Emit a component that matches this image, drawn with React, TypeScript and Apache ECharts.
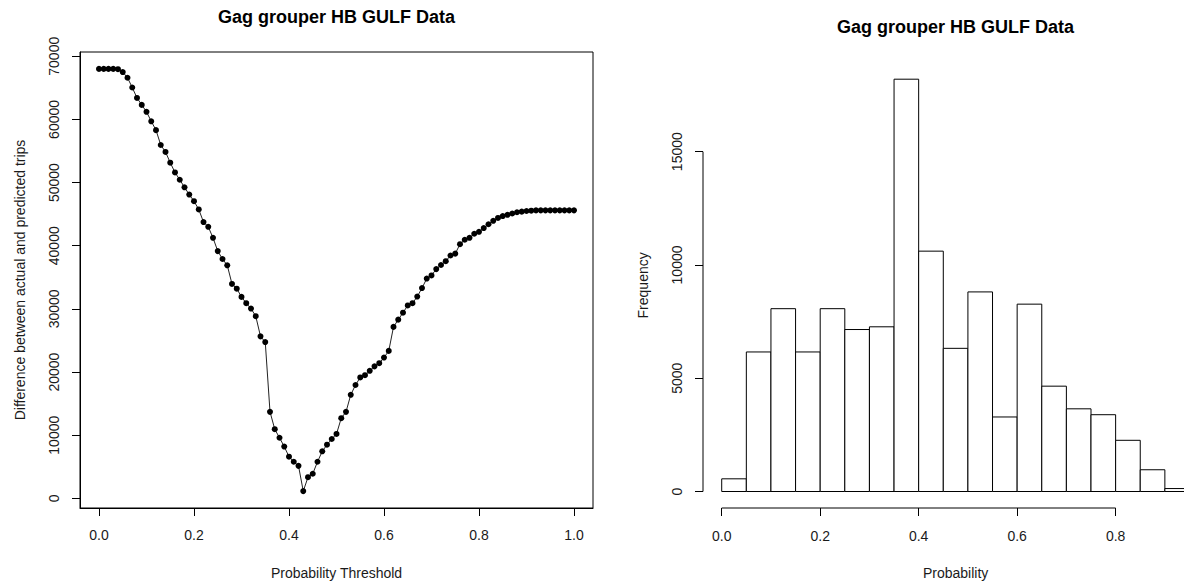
import React, { useEffect, useRef } from "react";
import * as echarts from "echarts";

// ---------- Data ----------
const chartTitle = "Gag grouper HB GULF Data";

// Left panel: difference between actual and predicted trips by probability threshold
const thresholds = [
  0.0, 0.01, 0.02, 0.03, 0.04, 0.05, 0.06, 0.07, 0.08, 0.09,
  0.1, 0.11, 0.12, 0.13, 0.14, 0.15, 0.16, 0.17, 0.18, 0.19,
  0.2, 0.21, 0.22, 0.23, 0.24, 0.25, 0.26, 0.27, 0.28, 0.29,
  0.3, 0.31, 0.32, 0.33, 0.34, 0.35, 0.36, 0.37, 0.38, 0.39,
  0.4, 0.41, 0.42, 0.43, 0.44, 0.45, 0.46, 0.47, 0.48, 0.49,
  0.5, 0.51, 0.52, 0.53, 0.54, 0.55, 0.56, 0.57, 0.58, 0.59,
  0.6, 0.61, 0.62, 0.63, 0.64, 0.65, 0.66, 0.67, 0.68, 0.69,
  0.7, 0.71, 0.72, 0.73, 0.74, 0.75, 0.76, 0.77, 0.78, 0.79,
  0.8, 0.81, 0.82, 0.83, 0.84, 0.85, 0.86, 0.87, 0.88, 0.89,
  0.9, 0.91, 0.92, 0.93, 0.94, 0.95, 0.96, 0.97, 0.98, 0.99,
  1.0,
];
const tripDifferences = [
  68000, 68000, 68000, 68000, 67950, 67500, 66600, 65050, 63400, 62300,
  61200, 59700, 58300, 55950, 54850, 53150, 51600, 50450, 49250, 48100,
  47050, 45750, 43750, 43000, 41250, 39150, 37900, 36900, 33950, 33200,
  31900, 30900, 30050, 28850, 25650, 24750, 13700, 10950, 9600, 8200,
  6600, 5800, 5150, 1150, 3350, 3900, 5800, 7450, 8500, 9400,
  10200, 12700, 13700, 16400, 17950, 19150, 19500, 20200, 20900, 21400,
  22300, 23350, 27150, 28300, 29400, 30550, 30900, 31950, 33300, 34800,
  35300, 36300, 36950, 37550, 38450, 38750, 40250, 40950, 41250, 41900,
  42200, 42800, 43400, 43950, 44400, 44700, 44900, 45100, 45300, 45400,
  45500, 45550, 45600, 45600, 45600, 45600, 45600, 45600, 45600, 45600,
  45600,
];
const leftXTicks = [0, 0.2, 0.4, 0.6, 0.8, 1.0];
const leftYTicks = [0, 10000, 20000, 30000, 40000, 50000, 60000, 70000];

// Right panel: histogram of probabilities
const binStarts = [0.0, 0.05, 0.1, 0.15, 0.2, 0.25, 0.3, 0.35, 0.4, 0.45, 0.5, 0.55, 0.6, 0.65, 0.7, 0.75, 0.8, 0.85, 0.9];
const binEnds = [0.05, 0.1, 0.15, 0.2, 0.25, 0.3, 0.35, 0.4, 0.45, 0.5, 0.55, 0.6, 0.65, 0.7, 0.75, 0.8, 0.85, 0.9, 0.95];
const binCounts = [560, 6160, 8070, 6160, 8070, 7150, 7270, 18200, 10610, 6320, 8810, 3290, 8270, 4650, 3650, 3390, 2260, 960, 130];
const rightXTicks = [0, 0.2, 0.4, 0.6, 0.8];
const rightYTicks = [0, 5000, 10000, 15000];

// R-style 4% axis extension
const extend = (lo: number, hi: number): [number, number] => {
  const d = (hi - lo) * 0.04;
  return [lo - d, hi + d];
};

const FONT = "'Liberation Sans', Arial, Helvetica, sans-serif";
const TEXT = "#1a1a1a";
const LINE = "#000";

export default function App() {
  const ref = useRef<HTMLDivElement>(null);

  useEffect(() => {
    if (!ref.current) return;
    const chart = echarts.init(ref.current, undefined, { renderer: "svg" });

    const [lxMin, lxMax] = extend(Math.min(...thresholds), Math.max(...thresholds));
    const [lyMin, lyMax] = extend(Math.min(...tripDifferences), Math.max(...tripDifferences));
    const [rxMin, rxMax] = extend(binStarts[0], binEnds[binEnds.length - 1]);
    const [ryMin, ryMax] = extend(0, Math.max(...binCounts));

    const tickLabel = { fontFamily: FONT, fontSize: 14, color: TEXT };
    const axisName = { fontFamily: FONT, fontSize: 14, color: TEXT };

    const option: any = {
      animation: false,
      backgroundColor: "#fff",
      textStyle: { fontFamily: FONT },
      grid: [
        { left: 80, top: 52, width: 513, height: 460, show: true, borderColor: LINE, borderWidth: 1, backgroundColor: "transparent" },
        { left: 703, top: 62.7, width: 505.2, height: 451.3, show: false },
      ],
      xAxis: [
        {
          gridIndex: 0, type: "value", min: lxMin, max: lxMax,
          name: "Probability Threshold", nameLocation: "middle", nameGap: 58, nameTextStyle: axisName,
          axisLine: { show: true, onZero: false, lineStyle: { color: LINE, width: 1 } },
          axisTick: { show: true, inside: false, length: 8, customValues: leftXTicks, lineStyle: { color: LINE } },
          axisLabel: { ...tickLabel, margin: 20, customValues: leftXTicks, formatter: (v: number) => v.toFixed(1) },
          splitLine: { show: false },
        },
        {
          gridIndex: 1, type: "value", min: rxMin, max: rxMax,
          name: "Probability", nameLocation: "middle", nameGap: 58, nameTextStyle: axisName,
          axisLine: { show: false, onZero: false },
          axisTick: { show: true, inside: false, length: 8, customValues: rightXTicks, lineStyle: { color: LINE } },
          axisLabel: { ...tickLabel, margin: 21, customValues: rightXTicks, formatter: (v: number) => v.toFixed(1) },
          splitLine: { show: false },
        },
      ],
      yAxis: [
        {
          gridIndex: 0, type: "value", min: lyMin, max: lyMax,
          name: "Difference between actual and predicted trips", nameLocation: "middle", nameGap: 53, nameTextStyle: axisName,
          axisLine: { show: true, onZero: false, lineStyle: { color: LINE, width: 1 } },
          axisTick: { show: true, inside: false, length: 8, customValues: leftYTicks, lineStyle: { color: LINE } },
          axisLabel: { ...tickLabel, margin: 19, rotate: 90, customValues: leftYTicks, formatter: (v: number) => String(v) },
          splitLine: { show: false },
        },
        {
          gridIndex: 1, type: "value", min: ryMin, max: ryMax,
          name: "Frequency", nameLocation: "middle", nameGap: 53, nameTextStyle: axisName,
          axisLine: { show: false, onZero: false },
          axisTick: { show: true, inside: false, length: 8, customValues: rightYTicks, lineStyle: { color: LINE } },
          axisLabel: { ...tickLabel, margin: 19, rotate: 90, customValues: rightYTicks, formatter: (v: number) => String(v) },
          splitLine: { show: false },
        },
      ],
      series: [
        {
          type: "line",
          xAxisIndex: 0, yAxisIndex: 0,
          data: thresholds.map((t, i) => [t, tripDifferences[i]]),
          symbol: "circle", symbolSize: 6,
          itemStyle: { color: "#000" },
          lineStyle: { color: "#222", width: 1 },
        },
        {
          type: "custom",
          xAxisIndex: 1, yAxisIndex: 1,
          data: binStarts.map((s, i) => [s, binEnds[i], binCounts[i]]),
          encode: { x: [0, 1], y: 2 },
          renderItem: (params: any, api: any) => {
            const p0 = api.coord([api.value(0), api.value(2)]);
            const p1 = api.coord([api.value(1), 0]);
            return {
              type: "rect",
              shape: { x: p0[0], y: p0[1], width: p1[0] - p0[0], height: p1[1] - p0[1] },
              style: { fill: "#fff", stroke: LINE, lineWidth: 1 },
            };
          },
        },
      ],
    };
    chart.setOption(option);

    // R-style axis lines on the histogram (from first to last tick only)
    const xa = chart.convertToPixel({ gridIndex: 1 } as any, [rightXTicks[0], ryMin]) as number[];
    const xb = chart.convertToPixel({ gridIndex: 1 } as any, [rightXTicks[rightXTicks.length - 1], ryMin]) as number[];
    const ya = chart.convertToPixel({ gridIndex: 1 } as any, [rxMin, rightYTicks[0]]) as number[];
    const yb = chart.convertToPixel({ gridIndex: 1 } as any, [rxMin, rightYTicks[rightYTicks.length - 1]]) as number[];
    const l0 = chart.convertToPixel({ gridIndex: 0 } as any, [(lxMin + lxMax) / 2, lyMax]) as number[];
    const r0 = chart.convertToPixel({ gridIndex: 1 } as any, [(rxMin + rxMax) / 2, ryMax]) as number[];

    chart.setOption({
      graphic: [
        {
          type: "text", x: l0[0], y: l0[1] - 35,
          style: { text: chartTitle, font: `bold 18px ${FONT}`, fill: "#000", textAlign: "center", textVerticalAlign: "middle" },
        },
        {
          type: "text", x: r0[0], y: r0[1] - 35.7,
          style: { text: chartTitle, font: `bold 18px ${FONT}`, fill: "#000", textAlign: "center", textVerticalAlign: "middle" },
        },
        { type: "line", shape: { x1: xa[0], y1: xa[1], x2: xb[0], y2: xb[1] }, style: { stroke: LINE, lineWidth: 1 } },
        { type: "line", shape: { x1: ya[0], y1: ya[1], x2: yb[0], y2: yb[1] }, style: { stroke: LINE, lineWidth: 1 } },
      ],
    });

    return () => chart.dispose();
  }, []);

  // The original picture is a crop of a wider figure: the histogram's plot region
  // runs past the right edge, so the chart is drawn wider and clipped to 1184px.
  return (
    <div style={{ position: "fixed", left: 0, top: 0, width: 1184, height: 585, overflow: "hidden", background: "#fff" }}>
      <div ref={ref} style={{ width: 1230, height: 585 }} />
    </div>
  );
}
